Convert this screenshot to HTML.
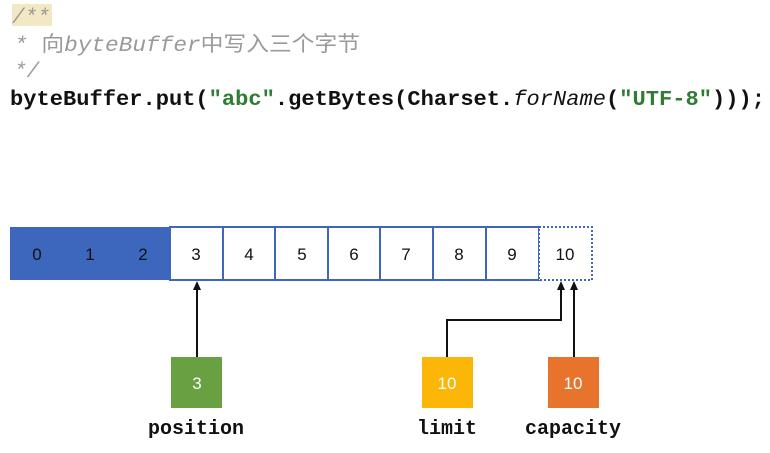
<!DOCTYPE html>
<html><head><meta charset="utf-8"><style>body{margin:0;background:#fff}svg{display:block}</style></head>
<body>
<svg width="770" height="453" xmlns="http://www.w3.org/2000/svg">
<rect x="12" y="4" width="40" height="22" fill="#f3e8c4"/>
<g font-family="Liberation Mono, monospace" font-size="21">
<text x="12" y="23" fill="#9a9a9a" font-style="italic">/**</text>
<text x="14" y="51" fill="#9a9a9a" font-style="italic" textLength="346" lengthAdjust="spacingAndGlyphs">* <tspan font-family="Liberation Sans, Noto Sans CJK SC, sans-serif" font-style="normal">向</tspan>byteBuffer<tspan font-family="Liberation Sans, Noto Sans CJK SC, sans-serif" font-style="normal">中写入三个字节</tspan></text>
<text x="14" y="77" fill="#9a9a9a" font-style="italic">*/</text>
<text x="10" y="105" font-weight="bold" fill="#111" textLength="755" lengthAdjust="spacingAndGlyphs">byteBuffer.put(<tspan fill="#2e7d32">"abc"</tspan>.getBytes(Charset.<tspan font-style="italic" font-weight="normal">forName</tspan>(<tspan fill="#2e7d32">"UTF-8"</tspan>)));</text>
</g>
<rect x="10" y="227" width="160" height="53" fill="#3d67bd"/>
<g fill="#fff" stroke="#3d67bd" stroke-width="2">
<rect x="170" y="227" width="53" height="53"/><rect x="223" y="227" width="52" height="53"/><rect x="275" y="227" width="53" height="53"/><rect x="328" y="227" width="52" height="53"/><rect x="380" y="227" width="53" height="53"/><rect x="433" y="227" width="53" height="53"/><rect x="486" y="227" width="53" height="53"/>
<rect x="539" y="227" width="53" height="53" stroke-dasharray="2,2"/>
</g>
<g font-family="Liberation Sans, sans-serif" font-size="17" text-anchor="middle" fill="#111">
<text x="37" y="260">0</text><text x="90" y="260">1</text><text x="143" y="260">2</text>
<text x="196" y="260">3</text><text x="249" y="260">4</text><text x="302" y="260">5</text><text x="354" y="260">6</text><text x="406" y="260">7</text><text x="459" y="260">8</text><text x="512" y="260">9</text><text x="565" y="260">10</text>
</g>
<g stroke="#111" stroke-width="2" fill="none">
<line x1="197" y1="357" x2="197" y2="288"/>
<polyline points="447,357 447,320 561,320 561,288"/>
<line x1="574" y1="357" x2="574" y2="288"/>
</g>
<g fill="#111">
<polygon points="197,281 193,290 201,290"/>
<polygon points="561,281 557,290 565,290"/>
<polygon points="574,281 570,290 578,290"/>
</g>
<rect x="171" y="357" width="51" height="51" fill="#68a042"/>
<rect x="422" y="357" width="51" height="51" fill="#fbb608"/>
<rect x="548" y="357" width="51" height="51" fill="#e8732d"/>
<g font-family="Liberation Sans, sans-serif" font-size="17" text-anchor="middle" fill="#fff">
<text x="197" y="389">3</text><text x="447" y="389">10</text><text x="573" y="389">10</text>
</g>
<g font-family="Liberation Mono, monospace" font-size="20" font-weight="bold" text-anchor="middle" fill="#111">
<text x="196" y="434">position</text><text x="447" y="434">limit</text><text x="573" y="434">capacity</text>
</g>
</svg>
</body></html>
